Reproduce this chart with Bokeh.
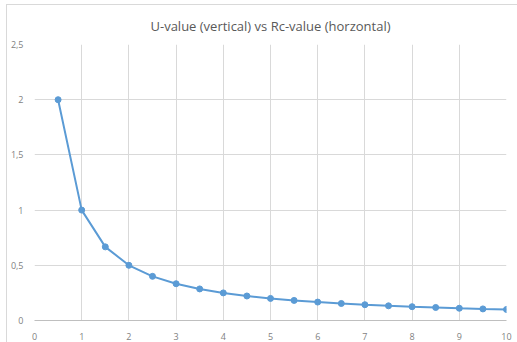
from bokeh.plotting import figure
from bokeh.models import Range1d, FixedTicker, CustomJSTickFormatter
from bokeh.embed import file_html
from bokeh.resources import INLINE

rc_values = [0.5, 1, 1.5, 2, 2.5, 3, 3.5, 4, 4.5, 5, 5.5, 6, 6.5, 7, 7.5, 8, 8.5, 9, 9.5, 10]
u_values = [2.0, 1.0, 0.667, 0.5, 0.4, 0.333, 0.286, 0.25, 0.222, 0.2, 0.182, 0.167,
            0.154, 0.143, 0.133, 0.125, 0.118, 0.111, 0.105, 0.1]
x_ticks = [0, 1, 2, 3, 4, 5, 6, 7, 8, 9, 10]
y_ticks = [0, 0.5, 1, 1.5, 2, 2.5]
title_text = "U-value (vertical) vs Rc-value (horzontal)"

GRID = "#d9d9d9"
TEXT = "#7f7f7f"
BLUE = "#5b9bd5"

p = figure(width=511, height=336, output_backend="svg", toolbar_location=None,
           x_range=Range1d(0, 10), y_range=Range1d(0, 2.5),
           frame_width=472, frame_height=276,
           min_border_left=25, min_border_right=11, min_border_top=38, min_border_bottom=20)
p.margin = (4, 0, 0, 6)
p.styles = {"border-left": "1px solid #d9d9d9", "border-top": "1px solid #d9d9d9"}
p.outline_line_color = None
p.background_fill_color = "white"
p.border_fill_color = "white"

p.title.text = title_text
p.title.align = "center"
p.title.offset = -12
p.title.text_font = "Open Sans"
p.title.text_font_style = "normal"
p.title.text_font_size = "13px"
p.title.text_color = "#595959"
p.title.text_line_height = 1.0
p.title.standoff = 19

for ax in (p.xaxis[0], p.yaxis[0]):
    ax.major_tick_line_color = None
    ax.minor_tick_line_color = None
    ax.major_label_text_color = TEXT
    ax.major_label_text_font = "Open Sans"
    ax.major_label_text_font_size = "9px"
    ax.formatter = CustomJSTickFormatter(code="return tick.toString().replace('.', ',');")
p.xaxis.ticker = FixedTicker(ticks=x_ticks)
p.yaxis.ticker = FixedTicker(ticks=y_ticks)
p.xaxis.axis_line_color = "#bfbfbf"
p.yaxis.axis_line_color = None
p.xaxis.major_label_standoff = 6
p.yaxis.major_label_standoff = 5

p.xgrid.ticker = FixedTicker(ticks=x_ticks)
p.ygrid.ticker = FixedTicker(ticks=y_ticks)
p.grid.grid_line_color = GRID
p.grid.grid_line_width = 1

p.line(rc_values, u_values, line_color=BLUE, line_width=2)
p.scatter(rc_values, u_values, size=6, fill_color=BLUE, line_color=BLUE)

open("out.html", "w").write(file_html(p, INLINE))
